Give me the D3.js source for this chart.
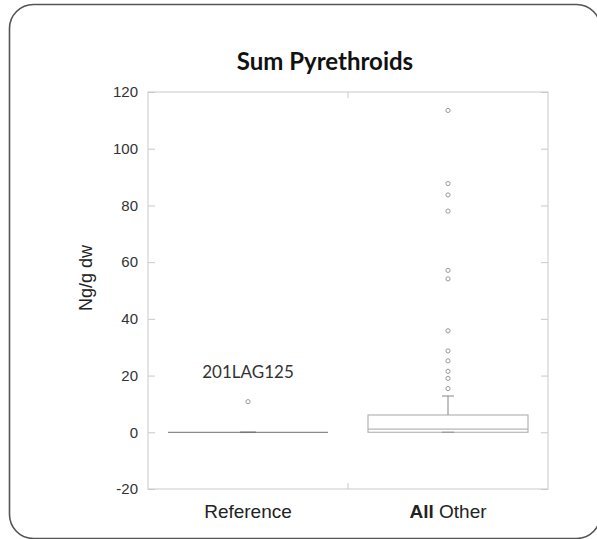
<!DOCTYPE html>
<html><head><meta charset="utf-8">
<script src="https://cdn.jsdelivr.net/npm/d3@7/dist/d3.min.js"></script>
<style>body{margin:0;background:#fff}svg{display:block}</style>
</head><body><svg id="c" width="597" height="539"></svg>
<script>
const categories = ["Reference", "All Other"];
const whiskerLow = [0, 0];
const q1 = [0, 0];
const median = [0, 1.1];
const q3 = [0, 6.1];
const whiskerHigh = [0, 12.8];
const outliersReference = [10.8];
const outliersAllOther = [113.5, 87.7, 83.7, 78.0, 57.1, 54.1, 35.8, 28.7, 25.2, 21.5, 19.0, 15.4];
const yTicks = [-20, 0, 20, 40, 60, 80, 100, 120];
const titleText = "Sum Pyrethroids";
const yLabel = "Ng/g dw";
const annotation = "201LAG125";

const svg = d3.select("#c");
svg.append("rect").attr("x", 9.5).attr("y", 4.5).attr("width", 591).attr("height", 534)
  .attr("rx", 24).attr("fill", "#fff").attr("stroke", "#555").attr("stroke-width", 1.6);

const m = {l: 148, r: 548, t: 92, b: 489};
const x = d3.scaleBand().domain(categories).range([m.l, m.r]).paddingInner(0).paddingOuter(0);
const y = d3.scaleLinear().domain([-20, 120]).range([m.b, m.t]);
const grey = "#c9c9c9";

// plot frame
svg.append("rect").attr("x", m.l).attr("y", m.t).attr("width", m.r - m.l).attr("height", m.b - m.t)
  .attr("fill", "none").attr("stroke", grey).attr("stroke-width", 1);

// left axis
const ax = svg.append("g").attr("transform", `translate(${m.l},0)`)
  .call(d3.axisLeft(y).tickValues(yTicks).tickFormat(d => String(d)).tickSizeInner(-7).tickSizeOuter(0).tickPadding(10));
ax.select(".domain").remove();
ax.selectAll(".tick line").attr("stroke", grey);
ax.selectAll(".tick text").attr("font-family", "Arial, 'Liberation Sans', sans-serif")
  .attr("font-size", 15).attr("fill", "#333");
// right axis ticks
const ar = svg.append("g").attr("transform", `translate(${m.r},0)`)
  .call(d3.axisRight(y).tickValues(yTicks).tickSizeInner(-7).tickSizeOuter(0).tickFormat(""));
ar.select(".domain").remove();
ar.selectAll(".tick line").attr("stroke", grey);
// category separator ticks on top and bottom
const sep = [x(categories[1])];
svg.selectAll(".sepT").data(sep).join("line").attr("x1", d => d).attr("x2", d => d)
  .attr("y1", m.t).attr("y2", m.t + 6).attr("stroke", grey);
svg.selectAll(".sepB").data(sep).join("line").attr("x1", d => d).attr("x2", d => d)
  .attr("y1", m.b).attr("y2", m.b - 6).attr("stroke", grey);

// category labels
const catG = svg.append("g");
categories.forEach((c, i) => {
  const t = catG.append("text").attr("x", x(c) + x.bandwidth() / 2).attr("y", m.b + 29)
    .attr("text-anchor", "middle").attr("font-family", "Arial, 'Liberation Sans', sans-serif")
    .attr("font-size", 19).attr("fill", "#222");
  if (c === "All Other") {
    t.append("tspan").attr("font-weight", "bold").text("All");
    t.append("tspan").text(" Other");
  } else t.text(c);
});

// boxes
const bw = x.bandwidth() * 0.8;
const capW = 10;
const data = categories.map((c, i) => ({c, lo: whiskerLow[i], q1: q1[i], med: median[i], q3: q3[i], hi: whiskerHigh[i]}));
const boxStroke = "#b5b5b5";
data.forEach(d => {
  const cx = x(d.c) + x.bandwidth() / 2;
  const g = svg.append("g");
  if (d.q3 - d.q1 > 0) {
    g.append("rect").attr("x", cx - bw / 2).attr("y", y(d.q3)).attr("width", bw).attr("height", y(d.q1) - y(d.q3))
      .attr("fill", "none").attr("stroke", boxStroke).attr("stroke-width", 1.2);
    g.append("line").attr("x1", cx - bw / 2).attr("x2", cx + bw / 2).attr("y1", y(d.med)).attr("y2", y(d.med))
      .attr("stroke", boxStroke).attr("stroke-width", 1.2);
    g.append("line").attr("x1", cx).attr("x2", cx).attr("y1", y(d.q3)).attr("y2", y(d.hi))
      .attr("stroke", "#999").attr("stroke-width", 1.2);
    g.append("line").attr("x1", cx - capW / 2 - 1).attr("x2", cx + capW / 2 + 1).attr("y1", y(d.hi)).attr("y2", y(d.hi))
      .attr("stroke", "#999").attr("stroke-width", 1.2);
    g.append("line").attr("x1", cx - capW / 2 - 1).attr("x2", cx + capW / 2 + 1).attr("y1", y(d.lo)).attr("y2", y(d.lo))
      .attr("stroke", "#999").attr("stroke-width", 1.2);
  } else {
    g.append("line").attr("x1", cx - bw / 2).attr("x2", cx + bw / 2).attr("y1", y(d.med)).attr("y2", y(d.med))
      .attr("stroke", "#8a8a8a").attr("stroke-width", 1.3);
    g.append("line").attr("x1", cx - capW / 2 - 3).attr("x2", cx + capW / 2 + 3).attr("y1", y(d.med)).attr("y2", y(d.med))
      .attr("stroke", "#777").attr("stroke-width", 1.5);
  }
});

// outliers
const outs = [
  ...outliersReference.map(v => ({c: categories[0], v})),
  ...outliersAllOther.map(v => ({c: categories[1], v}))
];
svg.selectAll(".out").data(outs).join("circle")
  .attr("cx", d => x(d.c) + x.bandwidth() / 2).attr("cy", d => y(d.v)).attr("r", 2.1)
  .attr("fill", "none").attr("stroke", "#9a9a9a").attr("stroke-width", 1);

// annotation
svg.append("text").attr("x", x(categories[0]) + x.bandwidth() / 2).attr("y", y(outliersReference[0]) - 24)
  .attr("text-anchor", "middle").attr("font-family", "Lato, 'Open Sans', sans-serif")
  .attr("font-size", 17).attr("fill", "#333").text(annotation);

// title
svg.append("text").attr("x", 325).attr("y", 70).attr("text-anchor", "middle")
  .attr("font-family", "Lato, 'Open Sans', sans-serif").attr("font-weight", "bold")
  .attr("font-size", 24).attr("fill", "#111").text(titleText);

// y label
svg.append("text").attr("transform", "translate(92,278) rotate(-90)").attr("text-anchor", "middle")
  .attr("font-family", "Arial, 'Liberation Sans', sans-serif").attr("font-size", 18)
  .attr("fill", "#222").text(yLabel);
</script></body></html>
